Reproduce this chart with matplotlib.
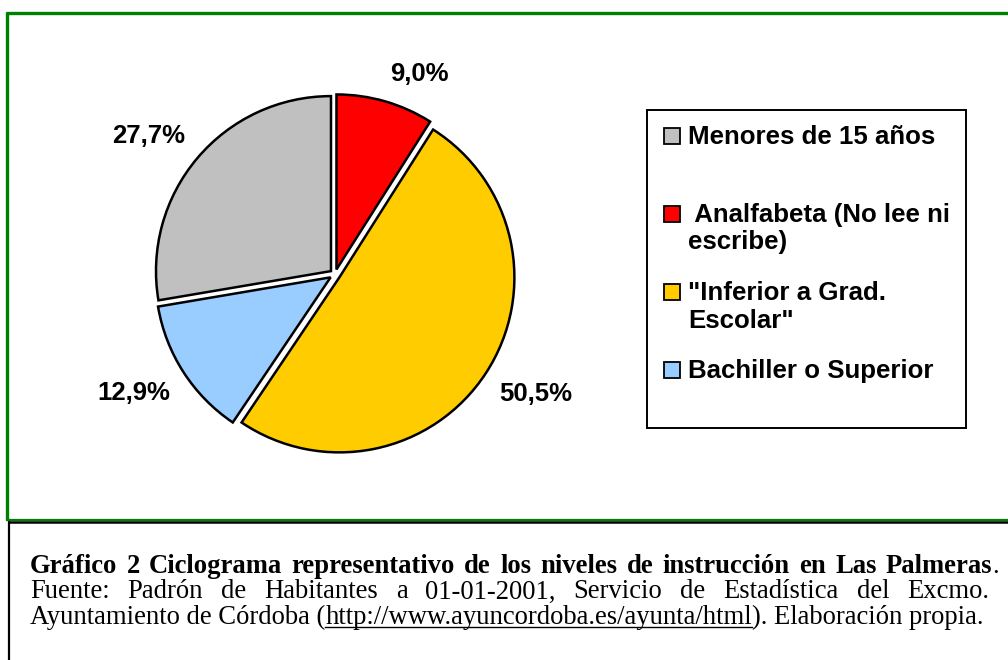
import numpy as np
import matplotlib
matplotlib.use("Agg")
import matplotlib.pyplot as plt
from matplotlib.lines import Line2D
from matplotlib.patches import Rectangle

# data
labels = ["Menores de 15 años", " Analfabeta (No lee ni\nescribe)",
          "\"Inferior a Grad.\nEscolar\"", "Bachiller o Superior"]
values = [27.7, 9.0, 50.5, 12.9]
colors = ["#C0C0C0", "#FF0000", "#FFCC00", "#99CCFF"]
# pie order (clockwise from 12 o'clock)
pie_order = [1, 2, 3, 0]

caption_bold = "Gráfico 2 Ciclograma representativo de los niveles de instrucción en Las Palmeras"
caption_l2 = "Fuente: Padrón de Habitantes a 01-01-2001, Servicio de Estadística del Excmo."
caption_l3 = ["Ayuntamiento de Córdoba (", "http://www.ayuncordoba.es/ayunta/html", "). Elaboración propia."]

W, H = 1008, 660
fig = plt.figure(figsize=(W / 100, H / 100), dpi=100)
fig.patch.set_facecolor("white")


def fx(x):
    return x / W


def fy(y):
    return 1 - y / H


# pie
R = 175.0
cx, cy = 335.0, 274.5
lim = 1.15
side = 2 * lim * R
ax = fig.add_axes([fx(cx - side / 2), fy(cy + side / 2), side / W, side / H])

pvals = [values[i] for i in pie_order]
pcols = [colors[i] for i in pie_order]
wedges, _ = ax.pie(pvals, colors=pcols, startangle=90, counterclock=False,
                   explode=[0.03] * len(pvals), radius=1.0,
                   wedgeprops=dict(edgecolor="black", linewidth=1.8))
ax.set_xlim(-lim, lim)
ax.set_ylim(-lim, lim)
ax.set_aspect("equal")
ax.axis("off")

for w, v in zip(wedges, pvals):
    ang = np.deg2rad((w.theta1 + w.theta2) / 2)
    c, s = np.cos(ang), np.sin(ang)
    ax.text(1.12 * c, 1.12 * s, f"{v:.1f}%".replace(".", ","),
            ha="left" if c > 0 else "right", va="bottom" if s > 0 else "top",
            fontsize=18.5, fontweight="bold", family="Liberation Sans")

# legend box
fig.add_artist(Rectangle((fx(647), fy(428)), (966 - 647) / W, (428 - 110) / H,
                         transform=fig.transFigure, fill=False,
                         edgecolor="black", linewidth=1.4))
for i, (lab, col) in enumerate(zip(labels, colors)):
    base = 144 + i * 78
    fig.add_artist(Rectangle((fx(664), fy(base)), 16 / W, 16 / H,
                             transform=fig.transFigure, facecolor=col,
                             edgecolor="black", linewidth=1.3))
    lines = lab.split("\n")
    for j, ln in enumerate(lines):
        fig.text(fx(688), fy(base + j * 27.5), ln, ha="left", va="baseline",
                 fontsize=18.6, fontweight="bold", family="Liberation Sans")

# frames
fig.add_artist(Line2D([fx(5.5), fx(1012)], [fy(13), fy(13)], color="#008000", lw=2.4,
                      solid_capstyle="butt", transform=fig.transFigure))
fig.add_artist(Line2D([fx(7), fx(7)], [fy(11.5), fy(520)], color="#008000", lw=2.4,
                      solid_capstyle="butt", transform=fig.transFigure))
fig.add_artist(Line2D([fx(5.5), fx(1012)], [fy(519.5), fy(519.5)], color="#008000", lw=1.6,
                      solid_capstyle="butt", transform=fig.transFigure))
fig.add_artist(Line2D([fx(8), fx(1012)], [fy(522), fy(522)], color="black", lw=1.8,
                      solid_capstyle="butt", transform=fig.transFigure))
fig.add_artist(Line2D([fx(9), fx(9)], [fy(521), fy(662)], color="black", lw=1.6,
                      solid_capstyle="butt", transform=fig.transFigure))

# caption
serif = "Liberation Serif"
cfs = 19.2
r = fig.canvas.get_renderer()


def justify(words, ybase, x0, x1, **kw):
    ts = [fig.text(fx(x0), fy(ybase), wd, va="baseline", ha="left", **kw) for wd in words]
    widths = [t.get_window_extent(r).width for t in ts]
    gap = (x1 - x0 - sum(widths)) / (len(words) - 1)
    x = x0
    for t, wd in zip(ts, widths):
        t.set_x(fx(x))
        x += wd + gap
    return x - gap


dot = fig.text(0, fy(573), ".", va="baseline", ha="left", family=serif, fontsize=cfs)
dw = dot.get_window_extent(r).width
end = justify(caption_bold.split(), 573, 30, 999 - dw, family=serif, fontsize=cfs, fontweight="bold")
dot.set_x(fx(end))
justify(caption_l2.split(), 598.5, 30, 989, family=serif, fontsize=cfs)

x = 30
for k, seg in enumerate(caption_l3):
    t = fig.text(fx(x), fy(624), seg, va="baseline", ha="left", family=serif, fontsize=cfs)
    w = t.get_window_extent(r).width
    if k == 1:
        fig.add_artist(Line2D([fx(x), fx(x + w)], [fy(626.5), fy(626.5)], color="black",
                              lw=1.0, transform=fig.transFigure))
    x += w

fig.savefig("out.png", dpi=100)
